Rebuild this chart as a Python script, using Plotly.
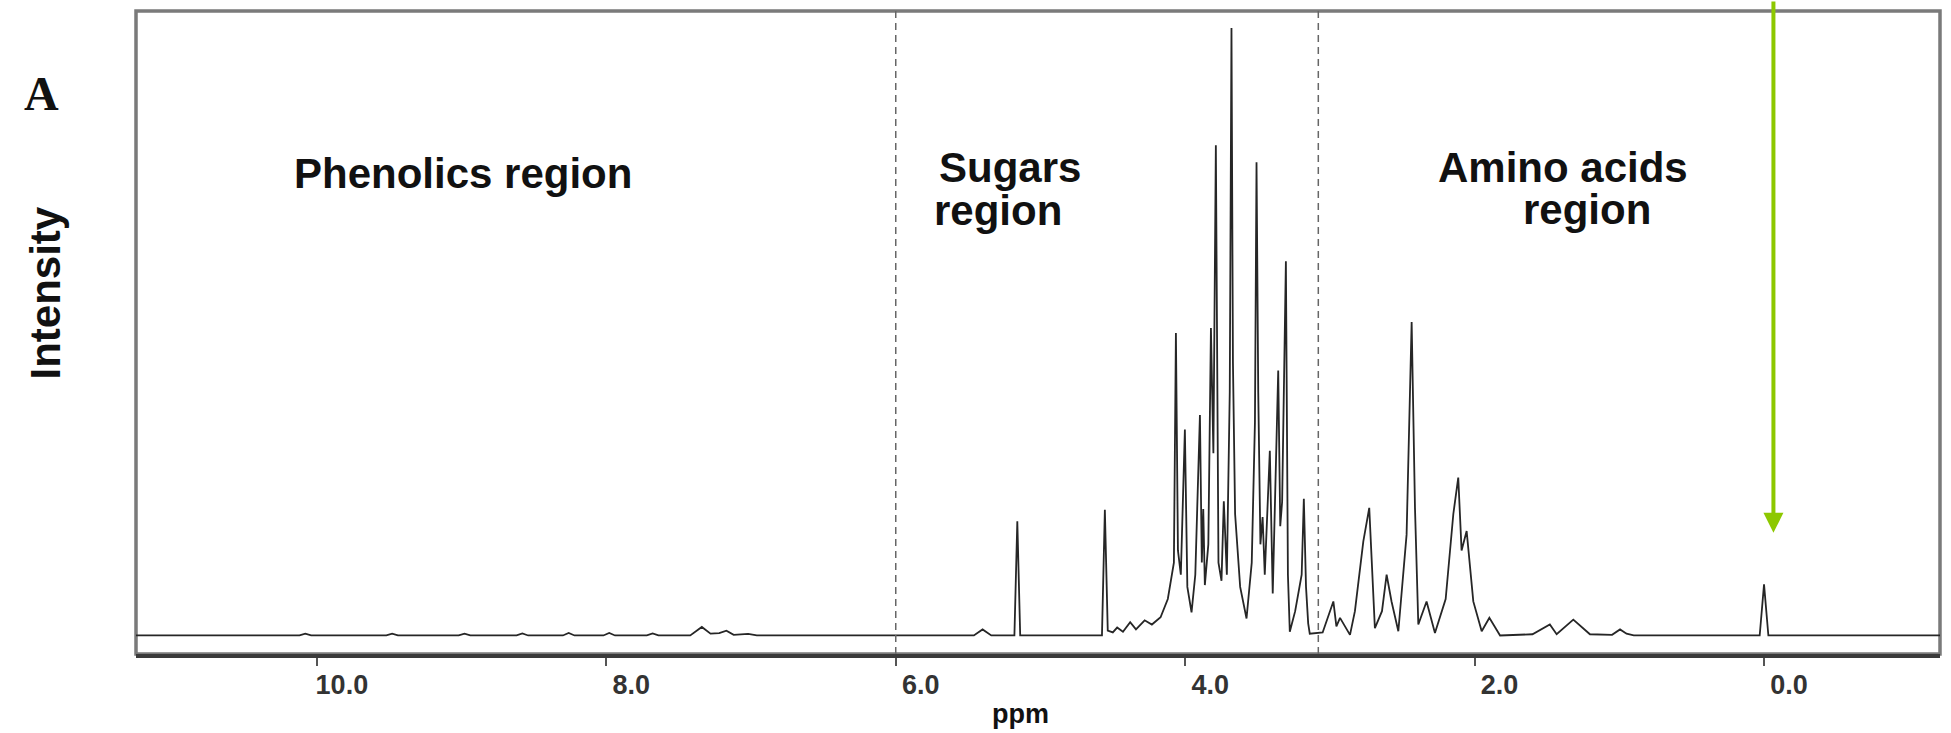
import plotly.graph_objects as go

# ---- data ----
ppm = [11.30, 10.12, 10.08, 10.04, 9.52, 9.48, 9.44, 9.02, 8.98, 8.94,
       8.62, 8.58, 8.54, 8.30, 8.26, 8.22, 8.02, 7.98, 7.94, 7.72, 7.68, 7.64,
       7.42, 7.34, 7.28, 7.22, 7.17, 7.12, 7.02, 6.96,
       5.46, 5.40, 5.34, 5.18, 5.16, 5.14,
       4.575, 4.555, 4.535, 4.50, 4.47, 4.43, 4.38, 4.34, 4.28, 4.23, 4.17, 4.12,
       4.078, 4.064, 4.050, 4.030, 4.002, 3.985, 3.956, 3.930, 3.898, 3.885,
       3.875, 3.864, 3.840, 3.822, 3.805, 3.788, 3.770, 3.749, 3.733, 3.712,
       3.692, 3.680, 3.670, 3.655, 3.620, 3.576, 3.540, 3.518, 3.507, 3.495,
       3.480, 3.465, 3.450, 3.435, 3.415, 3.395, 3.357, 3.343, 3.330, 3.304,
       3.290, 3.277, 3.240, 3.195, 3.180, 3.165, 3.150, 3.139,
       3.05, 2.976, 2.955, 2.930, 2.861, 2.827, 2.769, 2.728, 2.689, 2.640,
       2.608, 2.574, 2.527, 2.470, 2.435, 2.412, 2.389, 2.332, 2.274, 2.200,
       2.147, 2.113, 2.090, 2.055, 2.009, 1.951, 1.898, 1.824, 1.600, 1.480,
       1.433, 1.318, 1.249, 1.203, 1.05, 0.995, 0.95, 0.90,
       0.03, 0.00, -0.03, -1.30]
intensity = [0, 0, 0.3, 0, 0, 0.3, 0, 0, 0.3, 0,
             0, 0.35, 0, 0, 0.4, 0, 0, 0.4, 0, 0, 0.35, 0,
             0, 1.4, 0.3, 0.4, 0.8, 0.1, 0.25, 0,
             0, 1.0, 0, 0, 18.8, 0,
             0, 20.7, 0.8, 0.5, 1.3, 0.6, 2.2, 1.0, 2.5, 1.8, 3.0, 6.0,
             12.0, 49.8, 14.0, 10.0, 33.9, 8.0, 3.8, 10.0, 36.3, 12.0,
             20.8, 8.3, 15.0, 50.6, 30.0, 80.7, 12.0, 9.0, 22.1, 10.0,
             40.0, 100.0, 45.0, 20.0, 8.0, 2.8, 12.0, 35.0, 77.9, 40.0,
             15.0, 19.5, 10.0, 19.0, 30.4, 6.9, 43.6, 18.0, 22.0, 61.6,
             10.0, 0.6, 4.0, 10.0, 22.5, 8.0, 2.0, 0.3,
             0.5, 5.6, 1.5, 2.9, 0.1, 4.0, 15.5, 21.0, 1.2, 4.0,
             10.0, 5.6, 0.7, 16.6, 51.6, 21.0, 1.8, 5.6, 0.4, 6.0,
             20.0, 26.0, 14.0, 17.2, 5.6, 0.7, 2.9, 0, 0.2, 1.8,
             0.2, 2.6, 1.2, 0.2, 0.1, 1.0, 0.3, 0,
             0, 8.4, 0, 0]

tick_vals = [10, 8, 6, 4, 2, 0]
tick_text = ["10.0", "8.0", "6.0", "4.0", "2.0", "0.0"]
region_bounds = [6.0, 3.08]
x_range = [11.25, -1.216]
y_range = [-3.05, 102.8]
arrow_ppm = -0.065
arrow_tip = 16.9
arrow_start = 104.6

FONT = "Liberation Sans, Arial, sans-serif"
BOLD42 = dict(family=FONT, size=42, color="#111", weight="bold")

fig = go.Figure()
fig.add_trace(go.Scatter(x=ppm, y=intensity, mode="lines",
                         line=dict(color="#262626", width=1.8),
                         hoverinfo="skip", showlegend=False))

shapes = [dict(type="rect", xref="paper", yref="paper", x0=0, x1=1, y0=0, y1=1,
               line=dict(color="#7a7a7a", width=3.5), layer="below")]
for b in region_bounds:
    shapes.append(dict(type="line", xref="x", yref="paper", x0=b, x1=b, y0=0, y1=1,
                       line=dict(color="#666666", width=1.5, dash="7px,5px")))

annotations = [
    dict(text="A", xref="paper", yref="paper", x=-0.0524, y=0.872, showarrow=False,
         xanchor="center", yanchor="middle",
         font=dict(family="Liberation Serif, Times New Roman, serif", size=48, color="#111", weight="bold")),
    dict(text="Intensity", xref="paper", yref="paper", x=-0.0501, y=0.5616, showarrow=False,
         xanchor="center", yanchor="middle",
         textangle=-90, font=dict(family=FONT, size=42, color="#111", weight="bold")),
    dict(text="Phenolics region", x=8.99, y=76, xref="x", yref="y", showarrow=False,
         font=BOLD42),
    dict(text="Sugars", x=5.715, y=77, xref="x", yref="y", showarrow=False, xanchor="left",
         font=BOLD42),
    dict(text="region", x=5.75, y=70.0, xref="x", yref="y", showarrow=False, xanchor="left",
         font=BOLD42),
    dict(text="Amino acids", x=1.389, y=77, xref="x", yref="y", showarrow=False,
         font=BOLD42),
    dict(text="region", x=1.22, y=70.2, xref="x", yref="y", showarrow=False,
         font=BOLD42),
    dict(text="ppm", x=5.14, xref="x", yref="paper", y=-0.1204, yanchor="bottom", showarrow=False,
         font=dict(family=FONT, size=27, color="#111", weight="bold")),
    dict(text="", x=arrow_ppm, y=arrow_tip, xref="x", yref="y",
         ax=arrow_ppm, ay=arrow_start, axref="x", ayref="y",
         showarrow=True, arrowhead=2, arrowsize=1.0, arrowwidth=4, arrowcolor="#8dc800"),
]

fig.update_layout(
    width=1951, height=733,
    margin=dict(l=136, r=11, t=11, b=79),
    paper_bgcolor="white", plot_bgcolor="white",
    shapes=shapes, annotations=annotations,
    xaxis=dict(range=x_range, showgrid=False, zeroline=False,
               showline=True, linecolor="#3a3a3a", linewidth=4,
               ticks="outside", ticklen=8, tickwidth=1.5, tickcolor="#555",
               tickvals=tick_vals, ticktext=tick_text,
               ticklabelshift=-25, ticklabelstandoff=-4,
               tickfont=dict(family=FONT, size=27, color="#333", weight="bold")),
    yaxis=dict(range=y_range, showgrid=False, zeroline=False, showticklabels=False,
               ticks="", showline=False),
)

fig.write_html("out.html", config={"displayModeBar": False},
               post_script="document.body.style.margin='0';document.body.style.overflow='hidden';")
